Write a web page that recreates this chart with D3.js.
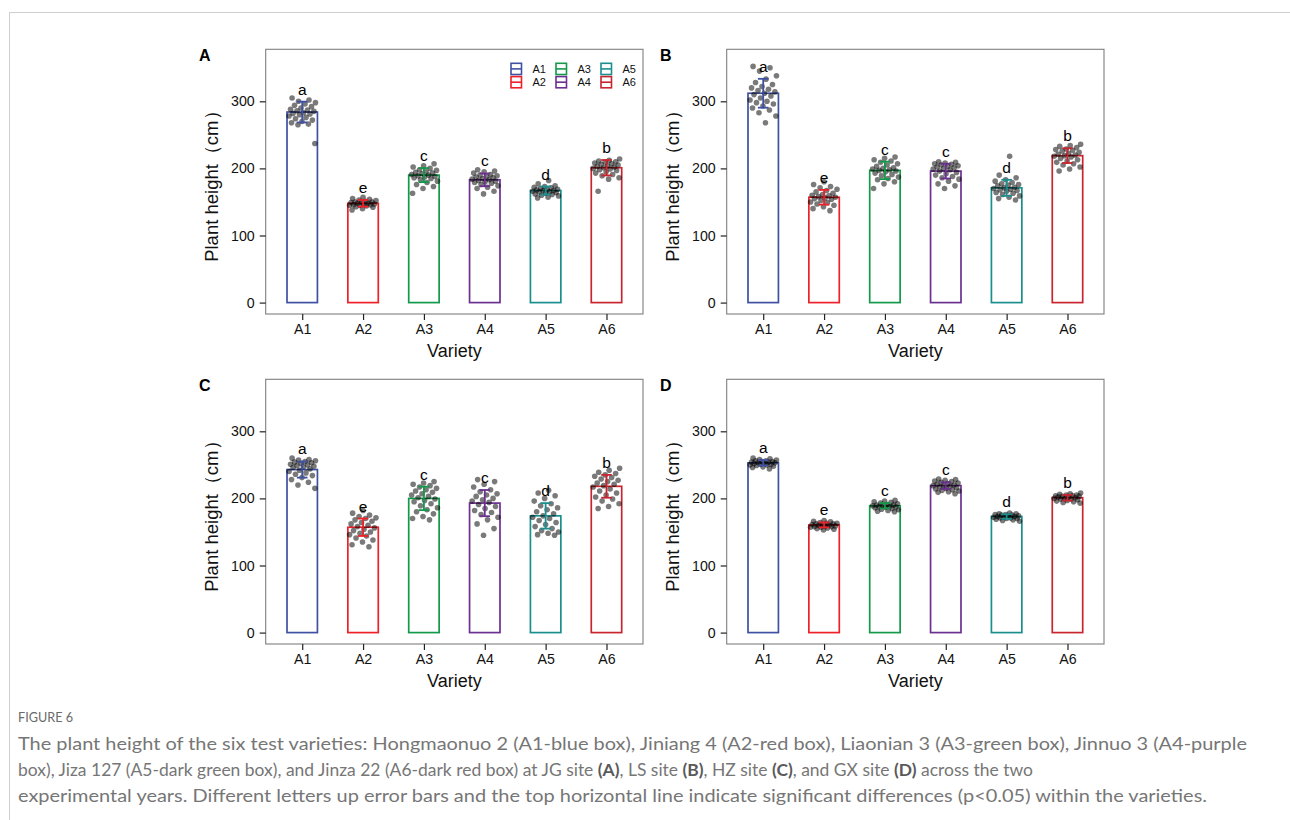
<!DOCTYPE html>
<html>
<head>
<meta charset="utf-8">
<script src="https://cdn.jsdelivr.net/npm/d3@7"></script>
<style>
  html, body { margin: 0; padding: 0; background: #fff; }
  svg { display: block; }
</style>
</head>
<body>
<div id="chart"></div>
<script>
// Plant height of six varieties at four sites (JG, LS, HZ, GX) - ggplot-like bar + jitter + error bars

const varieties = ["A1", "A2", "A3", "A4", "A5", "A6"];
const barColors = ["#3F51A3", "#EE2129", "#12994A", "#6B3090", "#1B8F8E", "#C9252F"];
const sigLetters = ["a", "e", "c", "c", "d", "b"];
const yTicks = [0, 100, 200, 300];
const panelTags = ["A", "B", "C", "D"];

// JG site (A)
const jgMean = [284, 148, 190, 183, 167, 201];
const jgSd = [15.5, 5, 10.5, 9.5, 6, 11.5];
const jgPoints = [
  [305, 302, 300, 298, 296, 294, 292, 290, 288, 287, 286, 285, 283, 282, 281, 280, 278, 276, 274, 272, 270, 268, 266, 265, 237],
  [157, 155, 154, 153, 152, 151, 150, 150, 149, 149, 148, 148, 147, 147, 146, 146, 145, 145, 144, 143, 142, 140, 138],
  [207, 204, 202, 200, 198, 197, 195, 194, 193, 192, 191, 190, 189, 188, 187, 186, 185, 183, 181, 179, 176, 173, 170, 163],
  [198, 196, 195, 193, 191, 190, 189, 188, 187, 186, 185, 184, 183, 182, 181, 180, 179, 178, 176, 174, 172, 170, 166, 162],
  [182, 177, 174, 173, 172, 171, 170, 169, 168, 168, 167, 167, 166, 165, 165, 164, 163, 162, 161, 160, 159, 157, 156],
  [214, 212, 211, 210, 209, 208, 207, 206, 205, 204, 203, 202, 201, 200, 199, 198, 197, 195, 193, 191, 189, 186, 184, 166]
];

// LS site (B)
const lsMean = [312, 157, 197, 196, 171, 219];
const lsSd = [21.5, 11, 13, 11, 12, 11];
const lsPoints = [
  [352, 350, 345, 338, 333, 328, 325, 322, 320, 318, 316, 314, 312, 310, 308, 305, 302, 300, 298, 296, 293, 290, 287, 283, 278, 268],
  [180, 176, 173, 171, 169, 167, 165, 163, 161, 160, 159, 158, 157, 156, 155, 154, 152, 150, 149, 147, 145, 143, 140, 137],
  [217, 215, 213, 211, 209, 207, 205, 203, 201, 200, 199, 198, 197, 196, 195, 193, 191, 189, 187, 185, 183, 180, 177, 170],
  [210, 209, 208, 207, 206, 205, 204, 203, 202, 201, 200, 199, 198, 196, 194, 192, 190, 188, 186, 184, 181, 177, 174, 170],
  [218, 190, 186, 183, 181, 179, 177, 176, 175, 174, 172, 171, 170, 169, 168, 167, 166, 164, 163, 161, 159, 157, 155, 153],
  [236, 234, 233, 231, 229, 228, 227, 226, 224, 222, 221, 220, 219, 218, 217, 215, 213, 211, 209, 207, 205, 202, 199, 196]
];

// HZ site (C)
const hzMean = [243, 157, 200, 193, 174, 218];
const hzSd = [12, 13, 17.5, 19.5, 19, 17];
const hzPoints = [
  [260, 258, 257, 256, 255, 254, 253, 252, 251, 250, 249, 248, 247, 246, 244, 242, 240, 238, 236, 234, 231, 228, 224, 220, 215],
  [182, 178, 175, 173, 171, 170, 168, 166, 164, 162, 160, 158, 156, 154, 152, 150, 148, 146, 144, 141, 138, 135, 131, 128],
  [225, 223, 221, 219, 217, 215, 213, 211, 209, 207, 205, 203, 201, 199, 197, 195, 192, 189, 186, 183, 180, 177, 173, 170, 168],
  [228, 225, 221, 217, 213, 210, 207, 205, 203, 200, 198, 196, 194, 191, 188, 185, 182, 179, 176, 172, 168, 162, 155, 145],
  [212, 208, 204, 200, 196, 192, 189, 186, 183, 180, 177, 174, 172, 170, 167, 164, 161, 158, 155, 152, 150, 148, 146, 145],
  [245, 242, 239, 237, 235, 233, 231, 229, 227, 225, 223, 221, 219, 217, 214, 211, 208, 205, 202, 199, 196, 192, 188, 185]
];

// GX site (D)
const gxMean = [253, 160.5, 189, 219, 173, 201];
const gxSd = [4, 3.8, 4, 5, 3.5, 4.2];
const gxPoints = [
  [260, 259, 258, 257, 256, 256, 255, 255, 254, 254, 253, 253, 252, 252, 251, 251, 250, 250, 249, 248, 247, 246, 244],
  [167, 166, 165, 164, 163, 163, 162, 162, 161, 161, 160, 160, 159, 159, 158, 158, 157, 157, 156, 155, 154, 153],
  [197, 196, 195, 194, 193, 192, 191, 190, 190, 189, 189, 188, 188, 187, 187, 186, 185, 184, 183, 182, 181, 180],
  [229, 228, 227, 226, 225, 224, 223, 222, 221, 220, 219, 219, 218, 217, 216, 215, 214, 213, 212, 211, 210, 209, 207],
  [178, 177, 177, 176, 176, 175, 175, 174, 174, 173, 173, 172, 172, 171, 171, 170, 170, 169, 168, 167, 166],
  [208, 207, 206, 205, 205, 204, 204, 203, 203, 202, 202, 201, 200, 200, 199, 199, 198, 197, 196, 195, 194, 193]
];

const captionTitle = "FIGURE 6";
const captionLines = [
  [["The plant height of the six test varieties: Hongmaonuo 2 (A1-blue box), Jiniang 4 (A2-red box), Liaonian 3 (A3-green box), Jinnuo 3 (A4-purple", false]],
  [["box), Jiza 127 (A5-dark green box), and Jinza 22 (A6-dark red box) at JG site ", false], ["(A)", true], [", LS site ", false], ["(B)", true],
   [", HZ site ", false], ["(C)", true], [", and GX site ", false], ["(D)", true], [" across the two", false]],
  [["experimental years. Different letters up error bars and the top horizontal line indicate significant differences (p<0.05) within the varieties.", false]]
];
// measured line widths in the figure
const captionWidths = [1229, 1015, 1189];

const W = 1290, H = 820;
const FONT = "'Liberation Sans', Arial, Helvetica, sans-serif";
const PW = 377.3, PH = 264.7;

const panels = [
  { tag: panelTags[0], mean: jgMean, sd: jgSd, pts: jgPoints, x0: 265.7, y0: 49.3, legend: true },
  { tag: panelTags[1], mean: lsMean, sd: lsSd, pts: lsPoints, x0: 726.7, y0: 49.3 },
  { tag: panelTags[2], mean: hzMean, sd: hzSd, pts: hzPoints, x0: 265.7, y0: 379.3 },
  { tag: panelTags[3], mean: gxMean, sd: gxSd, pts: gxPoints, x0: 726.7, y0: 379.3 }
];

const svg = d3.select("#chart").append("svg")
  .attr("width", W).attr("height", H)
  .attr("viewBox", `0 0 ${W} ${H}`);

svg.append("rect").attr("width", W).attr("height", H).attr("fill", "#fff");

// page frame (thin light lines at top and left)
svg.append("line").attr("x1", 9).attr("x2", W).attr("y1", 12.5).attr("y2", 12.5)
  .attr("stroke", "#cfcfcf").attr("stroke-width", 1);
svg.append("line").attr("x1", 9.5).attr("x2", 9.5).attr("y1", 12).attr("y2", H)
  .attr("stroke", "#cfcfcf").attr("stroke-width", 1);

function drawPanel(p) {
  const g = svg.append("g");

  const x = d3.scalePoint().domain(varieties).range([p.x0, p.x0 + PW]).padding(0.6);
  const y = d3.scaleLinear().domain([-17, 377.5]).range([p.y0 + PH, p.y0]);
  const step = x.step();
  const bw = step * 0.5;

  // bars
  g.selectAll("rect.bar")
    .data(varieties)
    .join("rect")
    .attr("class", "bar")
    .attr("x", d => x(d) - bw / 2)
    .attr("width", bw)
    .attr("y", (d, i) => y(p.mean[i]))
    .attr("height", (d, i) => y(0) - y(p.mean[i]))
    .attr("fill", "none")
    .attr("stroke", (d, i) => barColors[i])
    .attr("stroke-width", 1.7);

  // jittered points (deterministic spread across the bar)
  const jit = bw * 0.45;
  const pts = [];
  p.pts.forEach((vals, gi) => {
    vals.forEach((v, k) => {
      const t = ((k * 0.618034 + gi * 0.37 + 0.13) % 1);
      pts.push({ v, cx: x(varieties[gi]) + (t - 0.5) * 2 * jit });
    });
  });
  g.selectAll("circle.pt")
    .data(pts)
    .join("circle")
    .attr("class", "pt")
    .attr("cx", d => d.cx)
    .attr("cy", d => y(d.v))
    .attr("r", 2.8)
    .attr("fill", "#000")
    .attr("fill-opacity", 0.52);

  // error bars
  const cap = 5.3;
  const eb = g.selectAll("g.eb").data(varieties).join("g").attr("class", "eb")
    .attr("stroke", (d, i) => barColors[i]).attr("stroke-width", 1.8).attr("fill", "none");
  eb.append("line")
    .attr("x1", d => x(d)).attr("x2", d => x(d))
    .attr("y1", (d, i) => y(p.mean[i] + p.sd[i]))
    .attr("y2", (d, i) => y(p.mean[i] - p.sd[i]));
  eb.append("line")
    .attr("x1", d => x(d) - cap).attr("x2", d => x(d) + cap)
    .attr("y1", (d, i) => y(p.mean[i] + p.sd[i]))
    .attr("y2", (d, i) => y(p.mean[i] + p.sd[i]));
  eb.append("line")
    .attr("x1", d => x(d) - cap).attr("x2", d => x(d) + cap)
    .attr("y1", (d, i) => y(p.mean[i] - p.sd[i]))
    .attr("y2", (d, i) => y(p.mean[i] - p.sd[i]));

  // significance letters
  g.selectAll("text.sig")
    .data(varieties)
    .join("text")
    .attr("class", "sig")
    .attr("x", d => x(d))
    .attr("y", (d, i) => y(p.mean[i] + p.sd[i]) - 7)
    .attr("text-anchor", "middle")
    .attr("font-family", FONT)
    .attr("font-size", 15.5)
    .attr("fill", "#000")
    .text((d, i) => sigLetters[i]);

  // panel border
  g.append("rect")
    .attr("x", p.x0).attr("y", p.y0).attr("width", PW).attr("height", PH)
    .attr("fill", "none").attr("stroke", "#7f7f7f").attr("stroke-width", 1.1);

  // y axis
  const yAxis = g.append("g")
    .attr("transform", `translate(${p.x0},0)`)
    .call(d3.axisLeft(y).tickValues(yTicks).tickSize(6).tickPadding(5));
  yAxis.select(".domain").remove();
  yAxis.selectAll(".tick line").attr("stroke", "#222").attr("stroke-width", 1.2);
  yAxis.selectAll(".tick text").attr("font-family", FONT).attr("font-size", 14.2).attr("fill", "#111");

  // x axis
  const xAxis = g.append("g")
    .attr("transform", `translate(0,${p.y0 + PH})`)
    .call(d3.axisBottom(x).tickSize(6).tickPadding(4));
  xAxis.select(".domain").remove();
  xAxis.selectAll(".tick line").attr("stroke", "#222").attr("stroke-width", 1.2);
  xAxis.selectAll(".tick text").attr("font-family", FONT).attr("font-size", 14.2).attr("fill", "#111");

  // axis titles
  g.append("text")
    .attr("x", p.x0 + PW / 2)
    .attr("y", p.y0 + PH + 42.5)
    .attr("text-anchor", "middle")
    .attr("font-family", FONT).attr("font-size", 18).attr("fill", "#111")
    .text("Variety");
  g.append("text")
    .attr("transform", `translate(${p.x0 - 47.4},${p.y0 + PH / 2}) rotate(-90)`)
    .attr("text-anchor", "middle")
    .attr("font-family", FONT).attr("font-size", 18.5).attr("fill", "#111")
    .text("Plant height（cm）");

  // panel tag
  g.append("text")
    .attr("x", p.x0 - 66.7).attr("y", p.y0 + 11.8)
    .attr("font-family", FONT).attr("font-size", 16).attr("font-weight", "bold").attr("fill", "#000")
    .text(p.tag);

  if (p.legend) drawLegend(g, p);
}

function drawLegend(g, p) {
  const lx = p.x0 + 245.3, ly = p.y0 + 14;
  const items = g.selectAll("g.key").data(varieties).join("g").attr("class", "key")
    .attr("transform", (d, i) => `translate(${lx + Math.floor(i / 2) * 45},${ly + (i % 2) * 13.3})`);
  items.append("rect")
    .attr("x", 0).attr("y", 0).attr("width", 10.5).attr("height", 11.2)
    .attr("fill", "#fff")
    .attr("stroke", (d, i) => barColors[i]).attr("stroke-width", 1.6);
  items.append("line")
    .attr("x1", 0).attr("x2", 10.5).attr("y1", 5.6).attr("y2", 5.6)
    .attr("stroke", (d, i) => barColors[i]).attr("stroke-width", 1.6);
  items.append("text")
    .attr("x", 21.5).attr("y", 9.6)
    .attr("font-family", FONT).attr("font-size", 11).attr("fill", "#111")
    .text(d => d);
}

panels.forEach(drawPanel);

// caption
const capFont = "Lato, 'Open Sans', sans-serif";
svg.append("text")
  .attr("x", 18).attr("y", 721.5)
  .attr("font-family", capFont).attr("font-size", 12.5)
  .attr("textLength", 55).attr("lengthAdjust", "spacingAndGlyphs")
  .attr("fill", "#6a6a6a")
  .text(captionTitle);

captionLines.forEach((parts, li) => {
  const t = svg.append("text")
    .attr("x", 18).attr("y", 750 + li * 26)
    .attr("font-family", capFont).attr("font-size", 17.5)
    .attr("fill", "#767676")
    .attr("textLength", captionWidths[li])
    .attr("lengthAdjust", "spacingAndGlyphs");
  parts.forEach(([s, bold]) => {
    t.append("tspan").attr("font-weight", bold ? "bold" : null)
      .attr("fill", bold ? "#5a5a5a" : null).text(s);
  });
});
</script>
</body>
</html>
